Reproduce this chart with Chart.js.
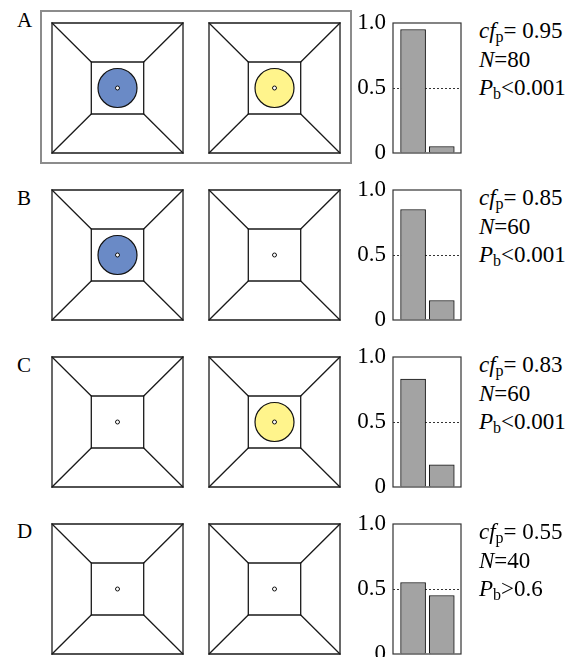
<!DOCTYPE html>
<html>
<head>
<meta charset="utf-8">
<script src="https://cdn.jsdelivr.net/npm/chart.js@4.4.0/dist/chart.umd.min.js"></script>
<style>
body{margin:0;background:#fff;}
#page{position:relative;width:577px;height:657px;overflow:hidden;font-family:"Liberation Serif","Times New Roman",Tinos,Times,serif;color:#000;}
.box{position:absolute;}
.letter{position:absolute;left:17px;font-size:21px;line-height:24px;}
.stats{position:absolute;left:479px;font-size:23px;line-height:28.5px;white-space:nowrap;}
.stats sub{font-size:16px;line-height:0;vertical-align:-4px;}
#frame{position:absolute;left:40px;top:10px;width:312px;height:154px;border:2.5px solid #8c8c8c;box-sizing:border-box;}
</style>
</head>
<body>
<div id="page"><div id="frame"></div></div>
<script>
// rows of the figure
const rowLabels = ["A","B","C","D"];
const leftCue = ["blue","blue",null,null];
const rightCue = ["yellow",null,"yellow",null];
// choice fractions (first bar / second bar)
const firstChoice = [0.95,0.85,0.83,0.55];
const secondChoice = [0.05,0.15,0.17,0.45];
const barPos = [1,2];
// stats text
const cfValues = ["0.95","0.85","0.83","0.55"];
const nValues = [80,60,60,40];
const pValues = ["<0.001","<0.001","<0.001",">0.6"];
// y axis
const yTicks = [0,0.5,1];
const yTickLabels = ["0","0.5","1.0"];
// arena outline in unit coords
const outerSquare = [[0,0],[1,0],[1,1],[0,1],[0,0]];
const innerSquare = [[0.3,0.3],[0.7,0.3],[0.7,0.7],[0.3,0.7],[0.3,0.3]];
const diagonals = [[[0,0],[0.3,0.3]],[[1,0],[0.7,0.3]],[[1,1],[0.7,0.7]],[[0,1],[0.3,0.7]]];
const centre = [0.5,0.5];

var serif = '"Liberation Serif","Times New Roman",Tinos,Times,serif';
var cueColors = {blue:"#6a8ac6", yellow:"#fff48c"};
var page = document.getElementById("page");

function makeCanvas(left, top, w, h){
  var div = document.createElement("div");
  div.className = "box";
  div.style.cssText = "left:"+left+"px;top:"+top+"px;width:"+w+"px;height:"+h+"px;";
  var cv = document.createElement("canvas");
  cv.width = w; cv.height = h;
  div.appendChild(cv);
  page.appendChild(div);
  return cv;
}

function lineSet(pts){
  return {data: pts.map(p => ({x:p[0], y:p[1]})), showLine:true, pointRadius:0,
    borderColor:"#1a1a1a", borderWidth:1.3, clip:false, borderCapStyle:"square"};
}

function arena(left, top, cue){
  var cv = makeCanvas(left-3, top-3, 137, 136);
  var ds = [];
  ds.push({data:[{x:centre[0], y:centre[1]}], pointRadius:2, backgroundColor:"#fff", borderColor:"#111", borderWidth:1});
  if(cue){
    ds.push({data:[{x:centre[0], y:centre[1]}], pointRadius:19.5, backgroundColor:cueColors[cue], borderColor:"#111", borderWidth:1.2});
  }
  ds.push(lineSet(innerSquare));
  ds.push(lineSet(outerSquare));
  diagonals.forEach(d => ds.push(lineSet(d)));
  new Chart(cv, {
    type:"scatter",
    data:{datasets:ds},
    options:{
      responsive:false, animation:false, events:[],
      layout:{padding:3, autoPadding:false},
      plugins:{legend:{display:false}, tooltip:{enabled:false}},
      scales:{
        x:{type:"linear", min:0, max:1, display:false},
        y:{type:"linear", min:0, max:1, display:false}
      }
    }
  });
}

const frameBox = {
  id:"frameBox",
  afterDatasetsDraw(chart){
    var a = chart.chartArea, ctx = chart.ctx;
    ctx.save();
    ctx.strokeStyle = "#333";
    ctx.lineWidth = 1.2;
    ctx.strokeRect(a.left, a.top, a.right-a.left, a.bottom-a.top);
    ctx.restore();
  }
};

function bars(top, i){
  // y tick labels need ~21px above/below the plot area
  var cv = makeCanvas(340, top-22, 124, 174);
  var vals = [firstChoice[i], secondChoice[i]];
  new Chart(cv, {
    type:"bar",
    data:{datasets:[{
      data: barPos.map((x,k) => ({x:x, y:vals[k]})),
      backgroundColor:"#a3a3a3", borderColor:"#111", borderWidth:1, barThickness:25
    }]},
    options:{
      responsive:false, animation:false, events:[],
      layout:{padding:{left:0, right:3, top:22, bottom:22}, autoPadding:false},
      plugins:{legend:{display:false}, tooltip:{enabled:false}},
      scales:{
        x:{type:"linear", min:0.3, max:2.67, offset:false, display:false},
        y:{
          min:0, max:1,
          afterFit: s => { s.width = 53; },
          ticks:{stepSize:0.5, padding:7, color:"#000",
            font:{family:serif, size:23},
            callback: v => yTickLabels[yTicks.indexOf(v)]},
          grid:{drawTicks:false, lineWidth:1,
            color: c => (c.tick && c.tick.value === 0.5) ? "#333" : "rgba(0,0,0,0)"},
          border:{display:false, dash:[2,2]}
        }
      }
    },
    plugins:[frameBox]
  });
}

function esc(s){ return s.replace("<","&lt;").replace(">","&gt;"); }

var letterTops = [8,186,352.5,519];
for(var i = 0; i < rowLabels.length; i++){
  var rowTop = 23 + i*167;
  arena(52, rowTop, leftCue[i]);
  arena(209, rowTop, rightCue[i]);
  bars(rowTop, i);

  var lt = document.createElement("div");
  lt.className = "letter";
  lt.style.top = letterTops[i] + "px";
  lt.textContent = rowLabels[i];
  page.appendChild(lt);

  var st = document.createElement("div");
  st.className = "stats";
  st.style.top = (rowTop - 6) + "px";
  st.innerHTML = "<i>cf</i><sub>p</sub>= " + cfValues[i] + "<br><i>N</i>=" + nValues[i] +
    "<br><i>P</i><sub>b</sub>" + esc(pValues[i]);
  page.appendChild(st);
}
</script>
</body>
</html>
